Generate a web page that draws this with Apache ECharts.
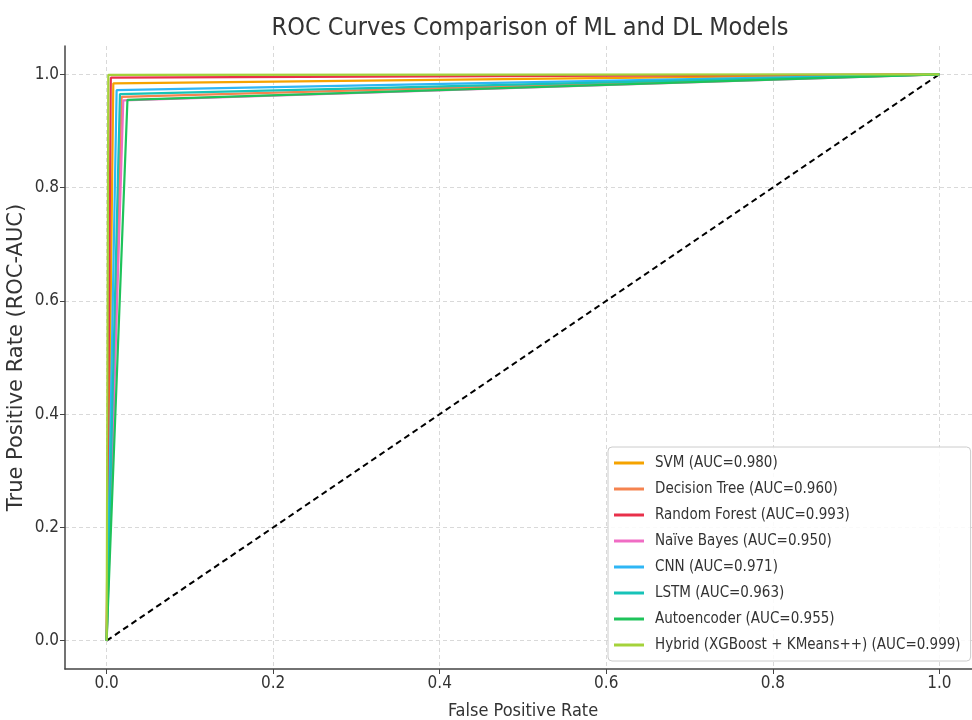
<!DOCTYPE html>
<html>
<head>
<meta charset="utf-8">
<script src="https://cdn.jsdelivr.net/npm/echarts@6/dist/echarts.min.js"></script>
<style>
  html, body { margin: 0; padding: 0; background: #fff; }
  #chart { width: 972px; height: 720px; }
</style>
</head>
<body>
<div id="chart"></div>
<script>
// models and their AUC labels
const models = ['SVM', 'Decision Tree', 'Random Forest', 'Naïve Bayes', 'CNN', 'LSTM', 'Autoencoder', 'Hybrid (XGBoost + KMeans++)'];
const aucLabels = ['0.980', '0.960', '0.993', '0.950', '0.971', '0.963', '0.955', '0.999'];
// ROC points: (0,0) -> corner -> (1,1)
const cornerFpr = [0.008, 0.018, 0.005, 0.020, 0.012, 0.016, 0.025, 0.002];
const cornerTpr = [0.984, 0.960, 0.994, 0.954, 0.972, 0.965, 0.955, 0.999];
const colors = ['#f5a300', '#f5834f', '#e8304a', '#f06cc4', '#2fb6f5', '#17c3b8', '#1ec35a', '#a4d23a'];
const tickValues = [0, 0.2, 0.4, 0.6, 0.8, 1.0];

const chart = echarts.init(document.getElementById('chart'));
const font = 'DejaVu Sans';
const narrow = "'DejaVu Sans Condensed', 'DejaVu Sans'";

const series = models.map((m, i) => ({
  name: `${m} (AUC=${aucLabels[i]})`,
  type: 'line',
  data: [[0, 0], [cornerFpr[i], cornerTpr[i]], [1, 1]],
  showSymbol: false,
  symbol: 'none',
  lineStyle: { color: colors[i], width: 2.2 },
  itemStyle: { color: colors[i] },
  z: 3 + i,
  animation: false
}));
// random-guess diagonal
series.push({
  name: 'chance',
  type: 'line',
  data: [[0, 0], [1, 1]],
  symbol: 'none',
  lineStyle: { color: '#000', width: 2, type: [6, 4] },
  z: 2,
  animation: false
});

const axisCommon = {
  type: 'value',
  min: -0.05,
  max: 1.05,
  nameLocation: 'middle',
  axisLine: { show: true, onZero: false, lineStyle: { color: '#444', width: 1.5 } },
  axisTick: { show: true, inside: false, length: 5, customValues: tickValues, lineStyle: { color: '#444' } },
  axisLabel: {
    customValues: tickValues,
    margin: 6,
    fontFamily: narrow, fontSize: 17, color: '#333',
    formatter: v => v.toFixed(1)
  },
  splitLine: { show: true, lineStyle: { color: '#d9d9d9', type: [4, 3], width: 1 } }
};

chart.setOption({
  animation: false,
  backgroundColor: '#fff',
  title: {
    text: 'ROC Curves Comparison of ML and DL Models',
    left: 525,
    textAlign: 'center',
    top: 11,
    textStyle: { fontFamily: narrow, fontSize: 25, fontWeight: 'normal', color: '#333' }
  },
  grid: { left: 65, right: -9, top: 46, bottom: 51, containLabel: false, outerBoundsMode: 'none' },
  xAxis: Object.assign({}, axisCommon, {
    name: 'False Positive Rate', nameGap: 33,
    nameTextStyle: { fontFamily: narrow, fontSize: 18, color: '#333' }
  }),
  yAxis: Object.assign({}, axisCommon, {
    name: 'True Positive Rate (ROC-AUC)', nameGap: 38, nameMoveOverlap: false,
    nameTextStyle: { fontFamily: font, fontSize: 21, color: '#333' }
  }),
  legend: {
    data: series.slice(0, models.length).map(s => s.name),
    orient: 'vertical',
    left: 608,
    top: 447,
    padding: [8, 10, 8, 6],
    itemGap: 10,
    itemWidth: 30,
    itemHeight: 3,
    icon: 'rect',
    backgroundColor: 'rgba(255,255,255,0.85)',
    borderColor: '#ccc',
    borderWidth: 1,
    borderRadius: 4,
    textStyle: { fontFamily: narrow, fontSize: 15, color: '#333', lineHeight: 16, padding: [0, 0, 0, 6] }
  },
  series: series
});
</script>
</body>
</html>
